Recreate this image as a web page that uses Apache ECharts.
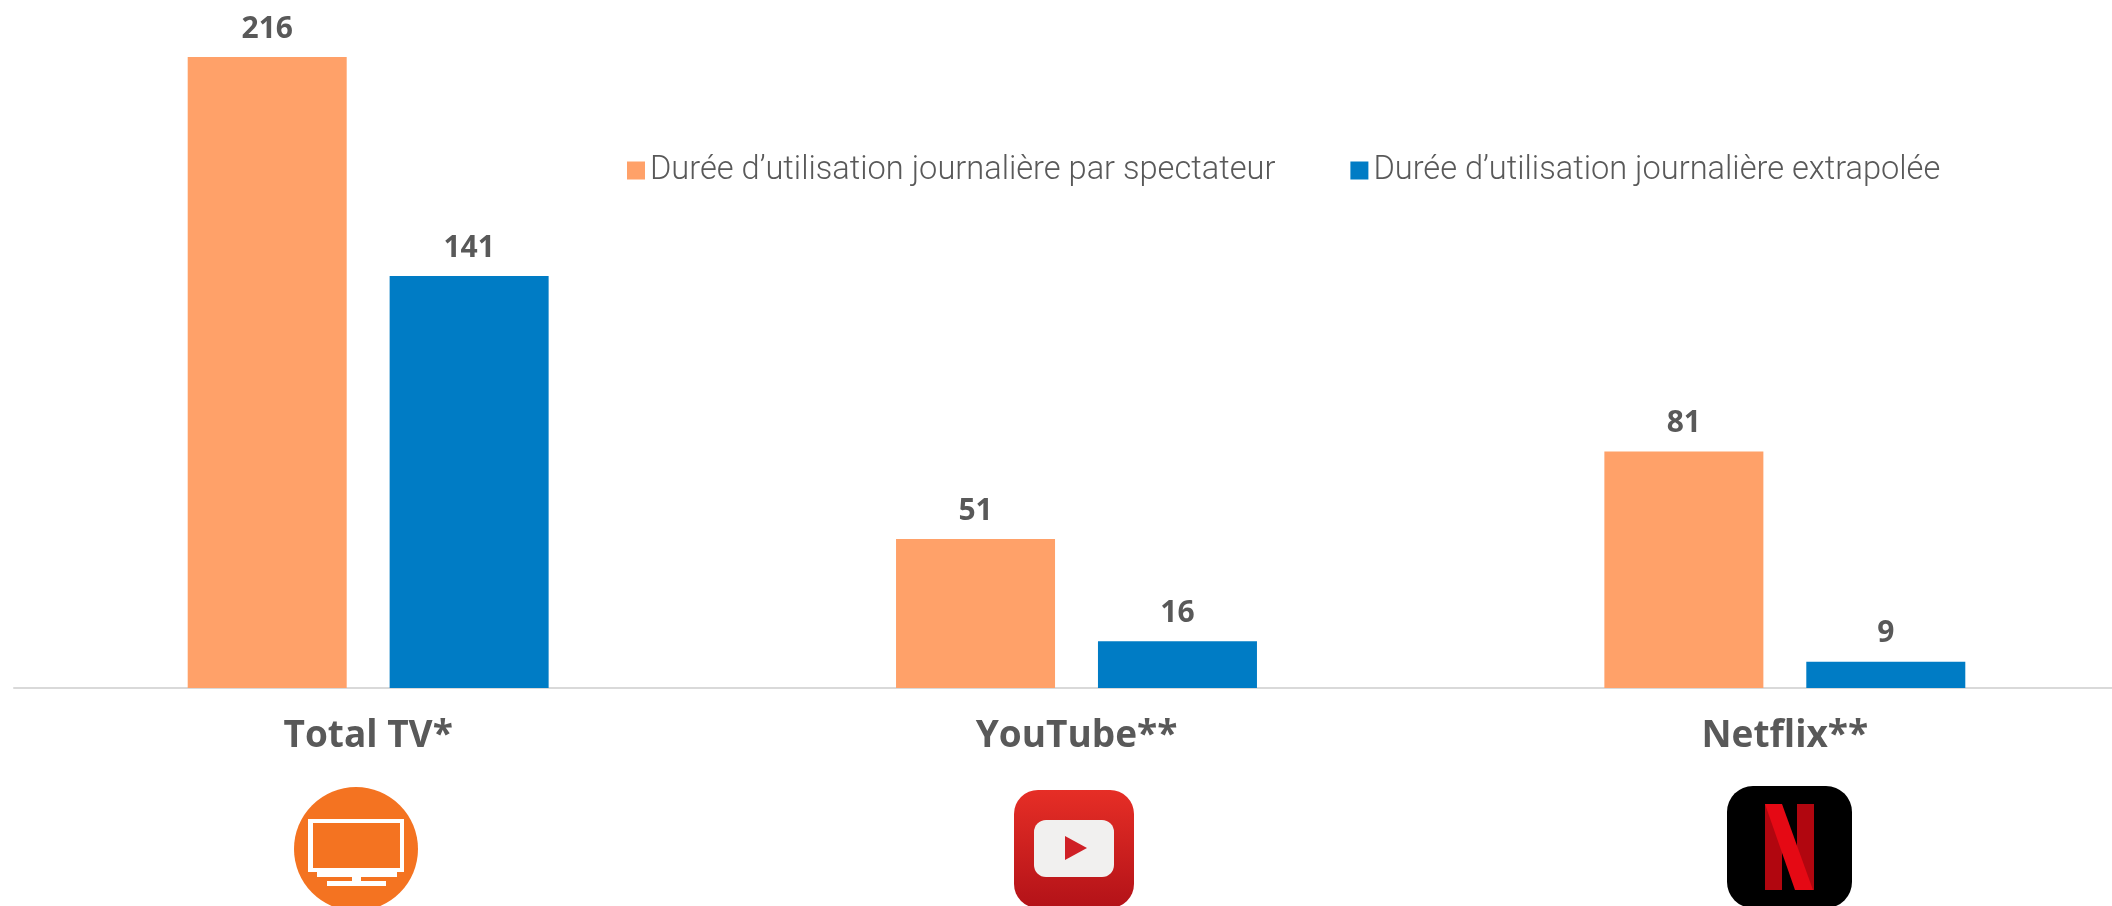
<!DOCTYPE html>
<html>
<head>
<meta charset="utf-8">
<title>Durée d'utilisation journalière</title>
<style>
	html, body { margin: 0; padding: 0; background: #fff; }
	#chart { width: 2112px; height: 906px; }
</style>
</head>
<body>
<div id="chart"></div>
<script src="https://cdn.jsdelivr.net/npm/echarts@6/dist/echarts.min.js"></script>
<script>
	var categories = ['Total TV*', 'YouTube**', 'Netflix**'];
	var parSpectateur = [216, 51, 81];
	var extrapolee = [141, 16, 9];
	var nomParSpectateur = 'Durée d’utilisation journalière par spectateur';
	var nomExtrapolee = 'Durée d’utilisation journalière extrapolée';

	var labelStyle = {
		show: true,
		position: 'top',
		distance: 13,
		color: '#595959',
		fontFamily: 'Open Sans',
		fontWeight: 'bold',
		fontSize: 30
	};

	// les trois logos sous l'axe
	function tvIcon() {
		return {
			type: 'group',
			children: [
				{type: 'circle', shape: {cx: 356, cy: 849, r: 62}, style: {fill: '#f47321'}},
				{type: 'rect', shape: {x: 308, y: 819, width: 96, height: 53}, style: {fill: '#fff'}},
				{type: 'rect', shape: {x: 313, y: 823, width: 87, height: 45}, style: {fill: '#f47321'}},
				{type: 'rect', shape: {x: 317, y: 872, width: 80, height: 5}, style: {fill: '#fff'}},
				{type: 'rect', shape: {x: 327, y: 881, width: 59, height: 5}, style: {fill: '#fff'}},
				{type: 'rect', shape: {x: 352, y: 876, width: 9, height: 6}, style: {fill: '#fff'}}
			]
		};
	}

	function youtubeIcon() {
		return {
			type: 'group',
			children: [
				{
					type: 'rect',
					shape: {x: 1014, y: 790, width: 120, height: 118, r: 24},
					style: {
						fill: new echarts.graphic.LinearGradient(0, 0, 0, 1, [
							{offset: 0, color: '#e62e26'},
							{offset: 1, color: '#b31218'}
						])
					}
				},
				{type: 'rect', shape: {x: 1034, y: 820, width: 80, height: 57, r: 12}, style: {fill: '#f1f0ef'}},
				{type: 'polygon', shape: {points: [[1065, 836], [1087, 848], [1065, 860]]}, style: {fill: '#cf2026'}}
			]
		};
	}

	function netflixIcon() {
		return {
			type: 'group',
			children: [
				{type: 'rect', shape: {x: 1727, y: 786, width: 125, height: 122, r: 26}, style: {fill: '#000'}},
				{type: 'rect', shape: {x: 1765, y: 804, width: 17, height: 86}, style: {fill: '#b1060f'}},
				{type: 'rect', shape: {x: 1797, y: 804, width: 17, height: 86}, style: {fill: '#b1060f'}},
				{type: 'polygon', shape: {points: [[1765, 804], [1782, 804], [1813, 890], [1795, 890]]}, style: {fill: '#e50914'}}
			]
		};
	}

	var myChart = echarts.init(document.getElementById('chart'));
	var option = {
		animation: false,
		backgroundColor: '#fff',
		legend: {
			left: 622,
			top: 149,
			itemWidth: 18,
			itemHeight: 18,
			itemGap: 75,
			icon: 'rect',
			textStyle: {
				fontFamily: 'Roboto',
				fontWeight: 300,
				fontSize: 32.6,
				color: '#595959'
			},
			data: [nomParSpectateur, nomExtrapolee]
		},
		grid: {
			outerBoundsMode: 'none',
			left: 14,
			width: 2125,
			top: 57,
			height: 631
		},
		xAxis: {
			type: 'category',
			data: categories,
			axisLine: {lineStyle: {color: '#d9d9d9', width: 2}},
			axisTick: {show: false},
			axisLabel: {
				margin: 30,
				color: '#595959',
				fontFamily: 'Open Sans',
				fontWeight: 'bold',
				fontSize: 37
			}
		},
		yAxis: {
			type: 'value',
			min: 0,
			max: 216,
			show: false,
			splitLine: {show: false}
		},
		series: [
			{
				name: nomParSpectateur,
				type: 'bar',
				data: parSpectateur,
				barWidth: 159,
				barGap: '27%',
				itemStyle: {color: '#ffa169'},
				label: labelStyle
			},
			{
				name: nomExtrapolee,
				type: 'bar',
				data: extrapolee,
				barWidth: 159,
				barGap: '27%',
				itemStyle: {color: '#007cc5'},
				label: labelStyle
			}
		],
		graphic: [tvIcon(), youtubeIcon(), netflixIcon()]
	};
	myChart.setOption(option);
</script>
</body>
</html>
